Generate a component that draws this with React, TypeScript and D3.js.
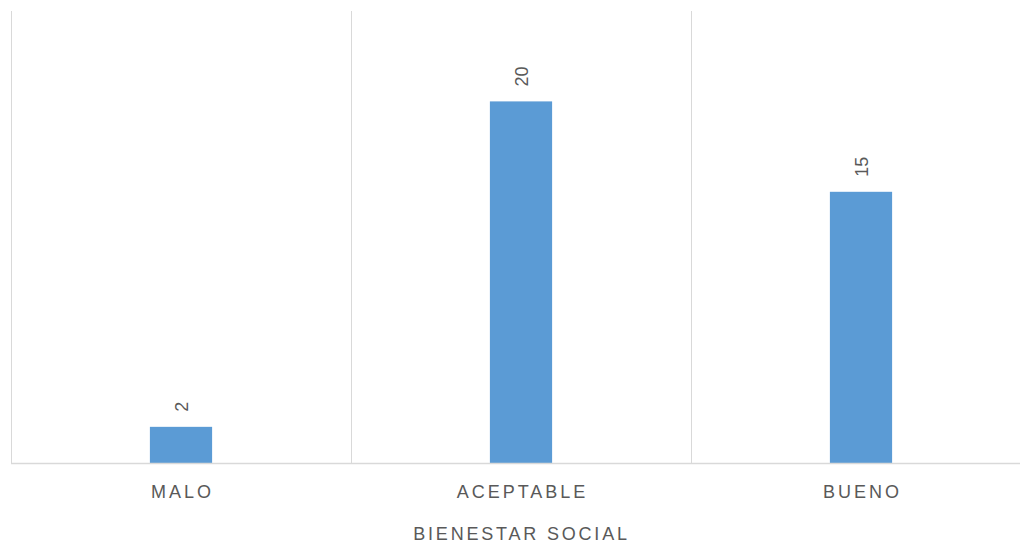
import React from "react";
import * as d3 from "d3";

const categories = ["MALO", "ACEPTABLE", "BUENO"];
const values = [2, 20, 15];
const axisTitle = "BIENESTAR SOCIAL";
const yMax = 25;

export default function App() {
  const W = 1020, H = 545;
  const left = 11, right = 1031, top = 11, bottom = 463;
  const x = d3.scaleBand<string>().domain(categories).range([left, right]).padding(0);
  const y = d3.scaleLinear().domain([0, yMax]).range([bottom, top]);
  const bw = x.bandwidth();
  const barW = bw * 0.183;
  const font = "'Liberation Sans', Arial, sans-serif";
  const grid = "#d9d9d9";
  const txt = "#595959";
  const bounds = [...categories.map((c) => x(c)!), right];
  return (
    <svg width={W} height={H} style={{ position: "absolute", left: 0, top: 0, background: "#fff" }}>
      {bounds.map((b, i) => (
        <line key={"g" + i} x1={b + 0.5} x2={b + 0.5} y1={top} y2={bottom} stroke={grid} strokeWidth={1} />
      ))}
      {categories.map((c, i) => {
        const cx = x(c)! + bw / 2;
        const yt = y(values[i]);
        return (
          <g key={c}>
            <rect x={cx - barW / 2} y={yt} width={barW} height={bottom - yt} fill="#5b9bd5" />
            <text
              transform={`translate(${cx + 6.5},${yt - 15}) rotate(-90)`}
              fontFamily={font}
              fontSize={18}
              fill={txt}
            >
              {values[i]}
            </text>
            <text
              x={cx + 1.5}
              y={498}
              textAnchor="middle"
              fontFamily={font}
              fontSize={18}
              letterSpacing={3}
              fill={txt}
            >
              {c}
            </text>
          </g>
        );
      })}
      <line x1={left} x2={right} y1={bottom + 0.5} y2={bottom + 0.5} stroke={grid} strokeWidth={1.5} />
      <text
        x={520 + 1.5}
        y={540}
        textAnchor="middle"
        fontFamily={font}
        fontSize={18}
        letterSpacing={2.8}
        fill={txt}
      >
        {axisTitle}
      </text>
    </svg>
  );
}
